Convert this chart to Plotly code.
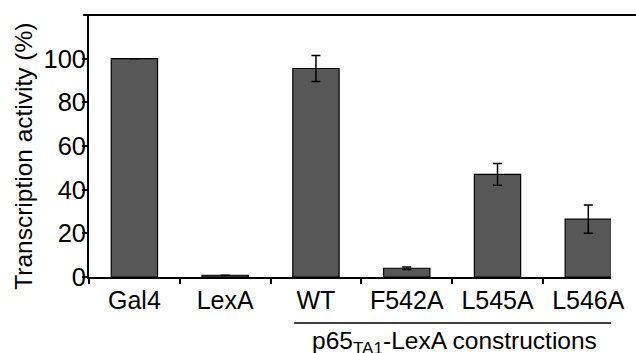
import plotly.graph_objects as go

categories = ["Gal4", "LexA", "WT", "F542A", "L545A", "L546A"]
values = [100, 0.8, 95.5, 4.0, 47.0, 26.5]
errors = [0, 0, 6.0, 0.6, 5.0, 6.5]
y_ticks = [0, 20, 40, 60, 80, 100]
group_label = "p65<sub>TA1</sub>-LexA constructions"
y_title = "Transcription activity (%)"

FONT = "Liberation Sans, Arial, sans-serif"

fig = go.Figure()
fig.add_trace(go.Bar(
    x=categories, y=values,
    width=0.51,
    marker=dict(color="#575757", line=dict(color="black", width=1.2)),
    error_y=dict(type="data", array=errors, visible=True,
                 color="black", thickness=1.5, width=4.5),
))
# invisible helper trace so the label axis is drawn
fig.add_trace(go.Scatter(x=categories, y=values, yaxis="y2", mode="markers",
                         marker=dict(opacity=0), hoverinfo="skip"))

fig.update_layout(
    width=636, height=353,
    margin=dict(l=89, r=18, t=15, b=76),
    plot_bgcolor="white", paper_bgcolor="white",
    showlegend=False,
    font=dict(family=FONT, size=24, color="black"),
    bargap=0.49,
    yaxis2=dict(overlaying="y", side="left", range=[0, 120], tickvals=y_ticks,
                ticks="", showline=False, showgrid=False, zeroline=False,
                ticklabelstandoff=2,
                tickfont=dict(family=FONT, size=25.5, color="black")),
)
fig.update_xaxes(
    type="category", range=[-0.5, 5.25],
    showline=True, linecolor="black", linewidth=2,
    ticks="outside", tickson="boundaries", ticklen=5, tickwidth=1.5, tickcolor="black",
    tickfont=dict(family=FONT, size=25, color="black"),
    showgrid=False, zeroline=False,
)
fig.update_layout(yaxis=dict(
    range=[0, 120], tickvals=y_ticks, showticklabels=False,
    showline=True, linecolor="black", linewidth=2,
    ticks="outside", ticklen=5, tickwidth=1.5, tickcolor="black",
    showgrid=False, zeroline=False,
))

# top frame line
fig.add_shape(type="line", xref="paper", yref="paper",
              x0=-0.0113, x1=1.06, y0=1, y1=1,
              line=dict(color="black", width=2))
# group bracket line
fig.add_shape(type="line", xref="x", yref="paper",
              x0=1.76, x1=5.25, y0=-0.1756, y1=-0.1756,
              line=dict(color="black", width=1.5))

fig.add_annotation(text=group_label, xref="x", yref="paper",
                   x=3.53, y=-0.183, yanchor="top", showarrow=False,
                   font=dict(family=FONT, size=24.5, color="black"))
fig.add_annotation(text=y_title, xref="paper", yref="paper",
                   x=-0.1248, y=0.462, textangle=-90, showarrow=False,
                   xanchor="center", yanchor="middle",
                   font=dict(family=FONT, size=24.5, color="black"))

fig.write_html("out.html")
